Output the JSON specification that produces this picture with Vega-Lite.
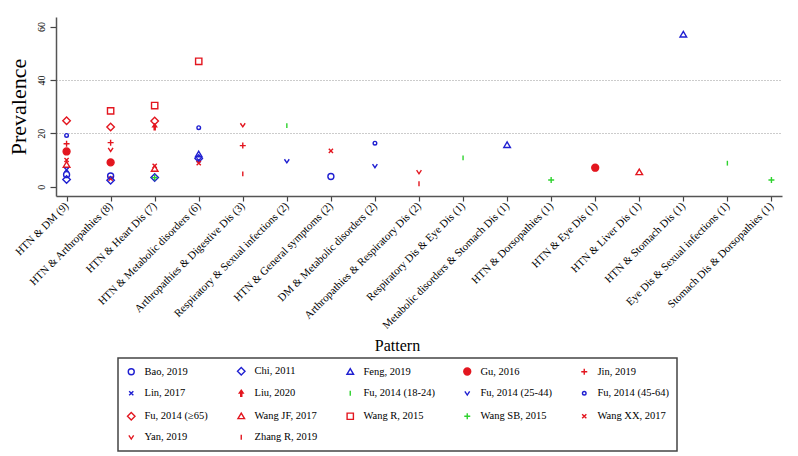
{
  "$schema": "https://vega.github.io/schema/vega-lite/v6.json",
  "width": 726,
  "height": 179,
  "autosize": {"type": "none"},
  "padding": {"left": 56, "top": 17, "right": 16, "bottom": 260},
  "background": "white",
  "config": {
    "view": {"stroke": null},
    "font": "Liberation Serif",
    "legend": {"strokeWidth": 1.5}
  },
  "data": {
    "values": [
      {"pattern": "HTN & DM (9)", "study": "Fu, 2014 (≥65)", "prevalence": 24.7},
      {"pattern": "HTN & DM (9)", "study": "Fu, 2014 (45-64)", "prevalence": 19.2},
      {"pattern": "HTN & DM (9)", "study": "Jin, 2019", "prevalence": 16.1},
      {"pattern": "HTN & DM (9)", "study": "Gu, 2016", "prevalence": 13.2},
      {"pattern": "HTN & DM (9)", "study": "Wang XX, 2017", "prevalence": 10.0},
      {"pattern": "HTN & DM (9)", "study": "Wang JF, 2017", "prevalence": 8.2},
      {"pattern": "HTN & DM (9)", "study": "Lin, 2017", "prevalence": 6.3},
      {"pattern": "HTN & DM (9)", "study": "Bao, 2019", "prevalence": 4.5},
      {"pattern": "HTN & DM (9)", "study": "Chi, 2011", "prevalence": 2.7},
      {"pattern": "HTN & Arthropathies (8)", "study": "Wang R, 2015", "prevalence": 28.4},
      {"pattern": "HTN & Arthropathies (8)", "study": "Fu, 2014 (≥65)", "prevalence": 22.4},
      {"pattern": "HTN & Arthropathies (8)", "study": "Jin, 2019", "prevalence": 16.5},
      {"pattern": "HTN & Arthropathies (8)", "study": "Yan, 2019", "prevalence": 13.9},
      {"pattern": "HTN & Arthropathies (8)", "study": "Gu, 2016", "prevalence": 9.1},
      {"pattern": "HTN & Arthropathies (8)", "study": "Bao, 2019", "prevalence": 4.0},
      {"pattern": "HTN & Arthropathies (8)", "study": "Wang XX, 2017", "prevalence": 3.0},
      {"pattern": "HTN & Arthropathies (8)", "study": "Chi, 2011", "prevalence": 2.4},
      {"pattern": "HTN & Heart Dis (7)", "study": "Wang R, 2015", "prevalence": 30.4},
      {"pattern": "HTN & Heart Dis (7)", "study": "Fu, 2014 (≥65)", "prevalence": 24.6},
      {"pattern": "HTN & Heart Dis (7)", "study": "Liu, 2020", "prevalence": 22.4},
      {"pattern": "HTN & Heart Dis (7)", "study": "Wang XX, 2017", "prevalence": 7.8},
      {"pattern": "HTN & Heart Dis (7)", "study": "Wang JF, 2017", "prevalence": 6.7},
      {"pattern": "HTN & Heart Dis (7)", "study": "Chi, 2011", "prevalence": 3.4},
      {"pattern": "HTN & Heart Dis (7)", "study": "Wang SB, 2015", "prevalence": 3.4},
      {"pattern": "HTN & Metabolic disorders (6)", "study": "Wang R, 2015", "prevalence": 47.0},
      {"pattern": "HTN & Metabolic disorders (6)", "study": "Fu, 2014 (45-64)", "prevalence": 22.1},
      {"pattern": "HTN & Metabolic disorders (6)", "study": "Feng, 2019", "prevalence": 12.1},
      {"pattern": "HTN & Metabolic disorders (6)", "study": "Chi, 2011", "prevalence": 10.6},
      {"pattern": "HTN & Metabolic disorders (6)", "study": "Lin, 2017", "prevalence": 9.9},
      {"pattern": "HTN & Metabolic disorders (6)", "study": "Wang XX, 2017", "prevalence": 8.8},
      {"pattern": "Arthropathies & Digestive Dis (3)", "study": "Yan, 2019", "prevalence": 23.1},
      {"pattern": "Arthropathies & Digestive Dis (3)", "study": "Jin, 2019", "prevalence": 15.4},
      {"pattern": "Arthropathies & Digestive Dis (3)", "study": "Zhang R, 2019", "prevalence": 4.8},
      {"pattern": "Respiratory & Sexual infections (2)", "study": "Fu, 2014 (18-24)", "prevalence": 22.9},
      {"pattern": "Respiratory & Sexual infections (2)", "study": "Fu, 2014 (25-44)", "prevalence": 9.6},
      {"pattern": "HTN & General symptoms (2)", "study": "Wang XX, 2017", "prevalence": 13.4},
      {"pattern": "HTN & General symptoms (2)", "study": "Bao, 2019", "prevalence": 3.8},
      {"pattern": "DM & Metabolic disorders (2)", "study": "Fu, 2014 (45-64)", "prevalence": 16.3},
      {"pattern": "DM & Metabolic disorders (2)", "study": "Fu, 2014 (25-44)", "prevalence": 7.8},
      {"pattern": "Arthropathies & Respiratory Dis (2)", "study": "Yan, 2019", "prevalence": 5.5},
      {"pattern": "Arthropathies & Respiratory Dis (2)", "study": "Zhang R, 2019", "prevalence": 1.1},
      {"pattern": "Respiratory Dis & Eye Dis (1)", "study": "Fu, 2014 (18-24)", "prevalence": 10.8},
      {"pattern": "Metabolic disorders & Stomach Dis (1)", "study": "Feng, 2019", "prevalence": 15.6},
      {"pattern": "HTN & Dorsopathies (1)", "study": "Wang SB, 2015", "prevalence": 2.5},
      {"pattern": "HTN & Eye Dis (1)", "study": "Gu, 2016", "prevalence": 7.1},
      {"pattern": "HTN & Liver Dis (1)", "study": "Wang JF, 2017", "prevalence": 5.4},
      {"pattern": "HTN & Stomach Dis (1)", "study": "Feng, 2019", "prevalence": 57.0},
      {"pattern": "Eye Dis & Sexual infections (1)", "study": "Fu, 2014 (18-24)", "prevalence": 8.8},
      {"pattern": "Stomach Dis & Dorsopathies (1)", "study": "Wang SB, 2015", "prevalence": 2.5}
    ]
  },
  "mark": {"type": "point", "filled": true, "opacity": 1, "strokeWidth": 1.4, "size": 36},
  "encoding": {
    "x": {
      "field": "pattern",
      "type": "nominal",
      "scale": {
        "type": "point",
        "padding": 0.24,
        "domain": ["HTN & DM (9)", "HTN & Arthropathies (8)", "HTN & Heart Dis (7)", "HTN & Metabolic disorders (6)", "Arthropathies & Digestive Dis (3)", "Respiratory & Sexual infections (2)", "HTN & General symptoms (2)", "DM & Metabolic disorders (2)", "Arthropathies & Respiratory Dis (2)", "Respiratory Dis & Eye Dis (1)", "Metabolic disorders & Stomach Dis (1)", "HTN & Dorsopathies (1)", "HTN & Eye Dis (1)", "HTN & Liver Dis (1)", "HTN & Stomach Dis (1)", "Eye Dis & Sexual infections (1)", "Stomach Dis & Dorsopathies (1)"]
      },
      "axis": {
        "title": "Pattern",
        "titleFont": "Liberation Serif",
        "titleFontSize": 16,
        "titleFontWeight": "normal",
        "titleColor": "#000",
        "titleX": 341,
        "titleY": 154,
        "titleBaseline": "alphabetic",
        "labelAngle": -45,
        "labelAlign": "right",
        "labelBaseline": "middle",
        "labelFont": "Liberation Serif",
        "labelFontSize": 11,
        "labelColor": "#000",
        "labelPadding": 3,
        "labelLimit": 400,
        "labelOverlap": false,
        "tickSize": 5,
        "tickColor": "#444",
        "tickWidth": 1.2,
        "domainColor": "#555",
        "domainWidth": 1.5,
        "grid": false
      }
    },
    "y": {
      "field": "prevalence",
      "type": "quantitative",
      "scale": {"domain": [-3.5, 63.6], "nice": false, "zero": false},
      "axis": {
        "title": "Prevalence",
        "titleFont": "Liberation Serif",
        "titleFontSize": 22,
        "titleFontWeight": "normal",
        "titleColor": "#000",
        "titlePadding": 6,
        "values": [0, 20, 40, 60],
        "labelAngle": 270,
        "labelAlign": "center",
        "labelBaseline": "bottom",
        "labelFont": "Liberation Serif",
        "labelFontSize": 10,
        "labelColor": "#000",
        "labelPadding": 4,
        "tickSize": 6,
        "tickColor": "#444",
        "tickWidth": 1.2,
        "domainColor": "#555",
        "domainWidth": 1.5,
        "grid": true,
        "gridColor": "#999",
        "gridDash": [1, 2],
        "gridWidth": 1,
        "gridOpacity": {"condition": {"test": "datum.value === 20 || datum.value === 40", "value": 1}, "value": 0}
      }
    },
    "stroke": {
      "field": "study",
      "type": "nominal",
      "scale": {
        "domain": ["Bao, 2019", "Chi, 2011", "Feng, 2019", "Gu, 2016", "Jin, 2019", "Lin, 2017", "Liu, 2020", "Fu, 2014 (18-24)", "Fu, 2014 (25-44)", "Fu, 2014 (45-64)", "Fu, 2014 (≥65)", "Wang JF, 2017", "Wang R, 2015", "Wang SB, 2015", "Wang XX, 2017", "Yan, 2019", "Zhang R, 2019"],
        "range": ["#1f1fd1", "#1f1fd1", "#1f1fd1", "#e3161f", "#e3161f", "#1f1fd1", "#e3161f", "#2fd22f", "#1f1fd1", "#1f1fd1", "#e3161f", "#e3161f", "#e3161f", "#2fd22f", "#e3161f", "#e3161f", "#e3161f"]
      },
      "legend": {
        "title": null,
        "orient": "none",
        "legendX": 62,
        "legendY": 341,
        "columns": 5,
        "direction": "horizontal",
        "gridAlign": "each",
        "columnPadding": 26,
        "rowPadding": 9,
        "padding": 8,
        "strokeColor": "#444",
        "fillColor": "#fff",
        "symbolSize": 36,
        "symbolStrokeWidth": 1.4,
        "labelFont": "Liberation Serif",
        "labelFontSize": 10.5,
        "labelColor": "#000",
        "labelOffset": 8,
        "labelLimit": 260,
        "labelExpr": "datum.label === 'Fu, 2014 (45-64)' ? datum.label + '              ' : datum.label"
      }
    },
    "fill": {
      "field": "study",
      "type": "nominal",
      "scale": {
        "domain": ["Bao, 2019", "Chi, 2011", "Feng, 2019", "Gu, 2016", "Jin, 2019", "Lin, 2017", "Liu, 2020", "Fu, 2014 (18-24)", "Fu, 2014 (25-44)", "Fu, 2014 (45-64)", "Fu, 2014 (≥65)", "Wang JF, 2017", "Wang R, 2015", "Wang SB, 2015", "Wang XX, 2017", "Yan, 2019", "Zhang R, 2019"],
        "range": ["transparent", "transparent", "transparent", "#e3161f", "transparent", "transparent", "#e3161f", "transparent", "transparent", "transparent", "transparent", "transparent", "transparent", "transparent", "transparent", "transparent", "transparent"]
      }
    },
    "shape": {
      "field": "study",
      "type": "nominal",
      "scale": {
        "domain": ["Bao, 2019", "Chi, 2011", "Feng, 2019", "Gu, 2016", "Jin, 2019", "Lin, 2017", "Liu, 2020", "Fu, 2014 (18-24)", "Fu, 2014 (25-44)", "Fu, 2014 (45-64)", "Fu, 2014 (≥65)", "Wang JF, 2017", "Wang R, 2015", "Wang SB, 2015", "Wang XX, 2017", "Yan, 2019", "Zhang R, 2019"],
        "range": [
          "M1,0A1,1 0 1,1 -1,0A1,1 0 1,1 1,0Z",
          "M0,-1.25L1.25,0L0,1.25L-1.25,0Z",
          "M0,-1.05L1.1,0.8L-1.1,0.8Z",
          "M1.15,0A1.15,1.15 0 1,1 -1.15,0A1.15,1.15 0 1,1 1.15,0Z",
          "M-1,0H1M0,-1V1",
          "M-0.7,-0.7L0.7,0.7M0.7,-0.7L-0.7,0.7",
          "M0,-1L0.65,-0.05L0.18,-0.05L0.18,1L-0.18,1L-0.18,-0.05L-0.65,-0.05Z",
          "M0,-0.8V0.8",
          "M-0.8,-0.6L0,0.6L0.8,-0.6",
          "M0.6,0A0.6,0.6 0 1,1 -0.6,0A0.6,0.6 0 1,1 0.6,0Z",
          "M0,-1.25L1.25,0L0,1.25L-1.25,0Z",
          "M0,-1.05L1.1,0.8L-1.1,0.8Z",
          "M-1.05,-1.05H1.05V1.05H-1.05Z",
          "M-1,0H1M0,-1V1",
          "M-0.7,-0.7L0.7,0.7M0.7,-0.7L-0.7,0.7",
          "M-0.8,-0.6L0,0.6L0.8,-0.6",
          "M0,-0.8V0.8"
        ]
      }
    }
  }
}
